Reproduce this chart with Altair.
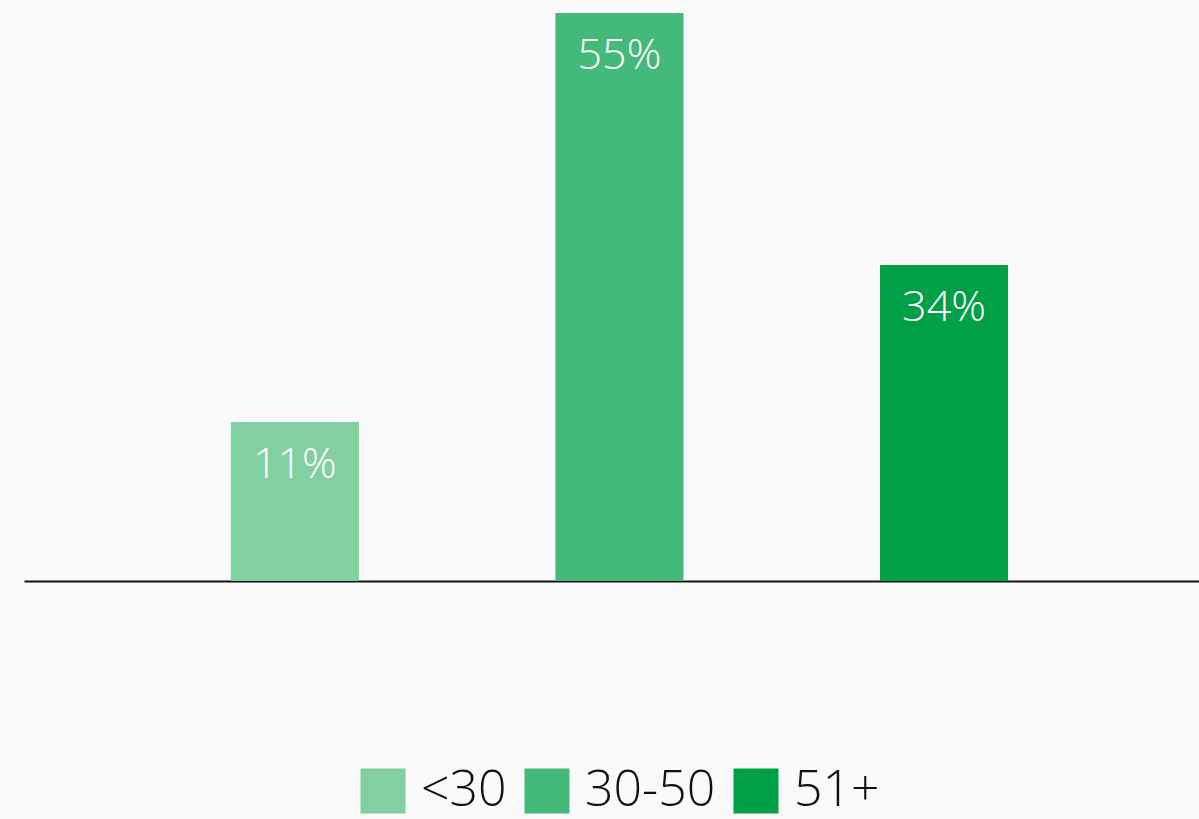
import altair as alt
import pandas as pd

categories = ["<30", "30-50", "51+"]
labels = ["11%", "55%", "34%"]
bar_heights = [15.4, 55.0, 30.6]
colors = ["#82D0A2", "#43B97A", "#00A047"]

df = pd.DataFrame({"cat": categories, "label": labels, "h": bar_heights})

FONT = "Open Sans"

xscale = alt.Scale(paddingInner=0.6055, paddingOuter=0.613, align=0.52)
xaxis = alt.Axis(title=None, labels=False, ticks=False, domain=True,
                 domainColor="#111111", domainWidth=2, grid=False)
y = alt.Y("h:Q", scale=alt.Scale(domain=[0, 56.26], nice=False, zero=True), axis=None)

bars = alt.Chart(df).mark_bar().encode(
    x=alt.X("cat:N", sort=categories, scale=xscale, axis=xaxis),
    y=y,
    color=alt.Color("cat:N", sort=categories,
                    scale=alt.Scale(domain=categories, range=colors),
                    legend=alt.Legend(title=None, orient="none", direction="horizontal",
                                      legendX=334, legendY=766, padding=0,
                                      symbolType="square", symbolSize=2025,
                                      symbolStrokeWidth=0, symbolOpacity=1,
                                      labelFont=FONT, labelFontWeight=300,
                                      labelFontSize=50, labelColor="#111111",
                                      labelOffset=13, columnPadding=15,
                                      labelLimit=400)),
)

text = alt.Chart(df).mark_text(color="white", font=FONT, fontWeight=300,
                               fontSize=43, baseline="alphabetic", dy=56).encode(
    x=alt.X("cat:N", sort=categories, scale=xscale, axis=xaxis),
    y=y, text="label:N")

chart = (bars + text).properties(
    width=1175, height=581,
    padding={"left": 24, "top": 0, "right": 0, "bottom": 238},
    autosize=alt.AutoSizeParams(type="none"),
    background="#FAFAFA",
).configure_view(stroke=None).configure_axisX(domainColor="#111111", domainWidth=2)

chart.save("out.html", embed_options={"renderer": "svg", "actions": False})
